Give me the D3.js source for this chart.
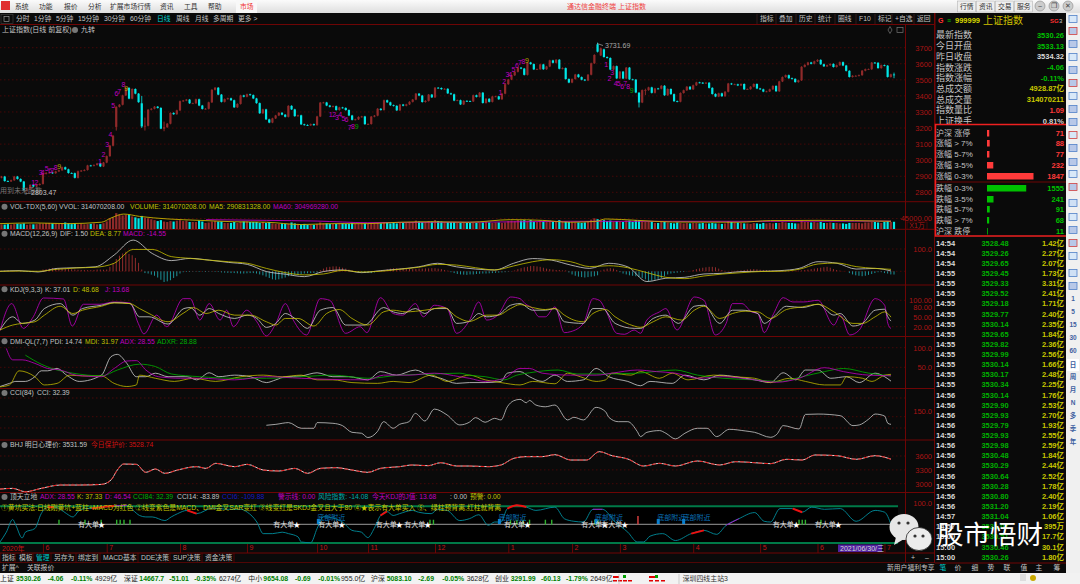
<!DOCTYPE html>
<html><head><meta charset="utf-8">
<script src="https://cdn.jsdelivr.net/npm/d3@7/dist/d3.min.js"></script>
<style>html,body{margin:0;padding:0;background:#0a0a0a;overflow:hidden}svg{display:block}text{font-family:"Liberation Sans","Noto Sans CJK SC",sans-serif}</style>
</head><body><svg id="c" width="1080" height="584"></svg>
<script>
// ---------- candle data (May 2020 .. Jul 2021) ----------
const closes=[2898,2870,2868,2875,2898,2883,2867,2813,2818,2846,2836,2846,2852,
2915,2921,2923,2919,2930,2937,2956,2943,2920,2919,2890,2931,2935,2939,2967,2965,2970,2979,2961,2985,
3025,3090,3152,3332,3345,3403,3450,3383,3443,3414,3361,3210,3214,3314,3320,3333,3325,3196,3205,3227,3294,3286,3310,
3367,3371,3377,3354,3354,3379,3340,3319,3320,3360,3438,3451,3408,3363,3380,3385,3373,3329,3350,3403,3395,
3410,3405,3384,3355,3292,3316,3254,3234,3260,3278,3295,3283,3270,3338,3316,3274,3279,3223,3219,3217,3224,3218,
3272,3358,3359,3340,3332,3336,3312,3328,3325,3312,3278,3251,3254,3269,3272,3224,
3225,3271,3277,3320,3312,3373,3360,3342,3338,3310,3346,3339,3347,3363,3377,3414,3402,3362,3369,3408,3391,
3451,3449,3442,3444,3416,3410,3371,3373,3347,3369,3367,3366,3404,3394,3420,3356,3382,3363,3396,3397,3379,3414,3473,
3502,3528,3550,3576,3570,3531,3608,3598,3565,3566,3596,3566,3583,3621,3606,3625,3569,3573,3505,3483,
3505,3533,3517,3501,3496,3532,3603,3655,3675,3696,3642,3636,3564,3585,3509,
3551,3508,3576,3503,3501,3421,3359,3436,3436,3453,3419,3446,3445,3463,3404,3443,3411,3367,3364,3418,3435,3457,3441,
3466,3484,3482,3479,3482,3450,3412,3396,3416,3398,3426,3477,3472,3472,3465,3474,3441,3442,3457,3474,3446,
3441,3427,3428,3441,3462,3429,3490,3517,3529,3510,3506,3486,3497,3581,3593,3608,3600,3615,
3624,3597,3584,3591,3599,3580,3591,3610,3589,3556,3518,3525,3525,3529,3557,3566,3566,3607,3606,3573,3591,
3588,3518,3534,3530.26];
const openGaps=[[0,2891],[36,3207],[44,3354],[50,3325],[187,3721],[188,3652],[189,3690],[280,3533.13]];
const wickExtremes=[[8,2830,2803.47],[36,3335,3184],[44,3400,3200],[45,3265,3184],[50,3330,3193],[51,3240,3180],[187,3731.69,3670],[200,3420,3328],[202,3445,3405],[280,3545,3510]];
const volume=[20,19,21,19,21,23,21,24,18,20,20,21,24,
23,25,26,24,24,22,25,28,24,21,24,20,23,20,21,22,24,20,21,25,
33,45,50,68,62,58,60,62,54,50,46,56,48,46,42,38,34,38,32,30,34,32,36,
38,34,36,30,30,30,36,32,26,28,32,34,32,32,26,26,26,30,26,30,32,
32,30,30,30,26,30,26,30,24,22,22,24,22,22,28,24,22,20,22,18,18,18,
22,28,24,24,22,22,22,24,24,22,22,26,22,22,24,24,
24,24,24,26,24,30,28,24,26,24,26,26,26,28,30,36,32,30,30,34,32,
38,34,32,30,30,30,30,26,26,26,26,26,26,26,26,28,30,28,26,28,28,26,28,
34,36,34,38,36,38,34,38,32,30,36,34,30,36,32,34,38,30,32,30,
28,28,28,26,28,32,40,46,42,38,38,34,36,30,34,
32,30,36,36,30,38,36,32,30,30,32,26,26,30,30,28,26,24,28,26,24,26,24,
26,26,24,26,24,24,26,24,24,22,24,34,30,28,28,26,24,24,22,26,24,
22,26,24,26,24,26,26,30,28,26,26,24,24,36,30,30,28,30,
28,30,26,26,28,26,26,24,24,22,26,26,26,26,24,28,28,30,30,28,26,
30,34,30,31];
const macdHist=[2,3,3,2,1,0,-1,-2,-3,-4,-3,-2,0,
8,10,12,14,14,13,12,11,10,9,8,7,6,6,5,5,6,8,8,7,
8,20,35,55,70,80,88,78,72,60,38,8,-8,-10,-15,-20,-28,-38,-48,-45,-40,-30,-22,
-10,-4,-3,-3,-2,-2,-3,-2,-3,-2,-2,-3,-3,-5,-6,-7,-8,-8,-9,-10,-10,-9,-8,-8,-10,
-14,-18,-24,-30,-36,-38,-36,-32,-28,-22,-18,-15,-14,-12,-10,-9,-8,-8,-6,
5,12,18,20,22,22,20,16,12,8,4,-3,-4,-5,-6,-7,-8,-5,-2,
3,6,9,12,14,14,13,12,12,11,10,11,12,12,13,13,14,14,12,10,6,3,
-4,-8,-12,-14,-15,-16,-14,-14,-12,-11,-10,-10,-9,-8,-7,-6,-5,-4,-2,-1,
4,10,14,18,20,24,24,22,20,16,12,10,8,6,6,4,4,
-5,-14,-20,-24,-26,-28,-26,-24,-22,-18,3,8,12,14,12,6,
-4,-10,-14,-18,-20,-22,-26,-30,-36,-44,-42,-38,-34,-30,-22,-14,-10,-8,-6,-4,-3,-1,2,
6,10,13,16,18,20,20,18,12,6,2,1,2,2,3,4,6,8,9,10,9,7,6,5,4,3,2,1,1,1,1,2,2,3,4,
6,8,10,12,14,16,18,20,16,10,6,3,1,0,-8,-14,-18,-20,-22,-20,-16,-12,-8,-4,-4,-8,-10,-14,-14.55];

// ---------- indicator lines: [reading index, value] ----------
const ma5Line=[[0,23],[11,26],[21,23],[32,29],[35,47],[39,64],[44,54],[53,43],[63,37],[74,31],[84,29],[95,19],[105,23],[116,23],[126,29],[137,31],[147,29],[148,29],[161,40],[171,37],[180,29],[188,33],[191,43],[201,37],[212,30],[233,29],[243,36],[258,37],[281,33]];
const ma60Line=[[65,40],[84,37],[100,34],[116,27],[137,29],[148,29],[180,33],[212,33],[243,33],[281,34]];
const dif=[[0,0],[6,3],[12,-3],[18,13],[24,16],[30,20],[36,73],[42,140],[48,80],[54,48],[60,58],[66,50],[72,40],[78,31],[84,-1],[90,-13],[96,-24],[102,-1],[108,6],[114,-6],[120,3],[126,10],[132,20],[138,36],[144,20],[150,10],[156,6],[162,36],[168,57],[174,50],[180,28],[186,13],[192,36],[198,20],[204,-46],[210,-31],[216,-27],[222,-12],[228,-9],[234,-1],[240,0],[246,3],[252,13],[258,43],[264,36],[270,10],[276,13],[281,1.5]];
const dea=[[0,0],[6,1],[12,0],[18,9],[24,15],[30,18],[36,36],[42,98],[48,98],[54,66],[60,58],[66,50],[72,43],[78,36],[84,13],[90,-6],[96,-16],[102,-12],[108,4],[114,-3],[120,0],[126,9],[132,18],[138,31],[144,28],[150,16],[156,6],[162,24],[168,43],[174,52],[180,43],[186,21],[192,25],[198,16],[204,-6],[210,-27],[216,-33],[222,-21],[228,-12],[234,-6],[240,-1],[246,0],[252,9],[258,33],[264,37],[270,21],[276,13],[281,8.77]];
const kdjK=[[0,10],[4,50],[7,30],[11,40],[14,75],[19,90],[23,55],[26,75],[32,85],[36,93],[41,90],[44,50],[47,50],[53,28],[58,75],[60,78],[63,55],[66,75],[69,60],[74,45],[78,55],[81,45],[84,18],[87,30],[90,60],[93,45],[97,15],[101,70],[105,78],[109,25],[115,25],[121,78],[124,65],[127,60],[131,75],[134,60],[137,75],[141,75],[144,30],[148,36],[151,60],[153.5,50],[157,55],[161,85],[164,90],[168,70],[172,70],[175,75],[178,35],[184,30],[187,75],[190,75],[194,30],[200,15],[202,15],[206,45],[210,55],[214,30],[219,82],[222,85],[227,30],[231,70],[234,70],[239,60],[241,30],[244,50],[248,82],[253,78],[258,88],[263,55],[265,60],[269,22],[272,30],[276,70],[279,73],[280,50],[281,37]];
const kdjD=[[0,10],[4,25],[7,30],[11,35],[14,55],[19,82],[23,60],[26,70],[32,82],[36,92],[41,90],[44,75],[47,60],[53,35],[58,62],[61,78],[65,60],[69,70],[74,55],[79,55],[84,35],[87,25],[90,45],[94,45],[99,22],[103,60],[107,72],[111,45],[116,25],[121,65],[124,70],[128,65],[134,70],[140,78],[144,50],[148,36],[153.5,55],[157,55],[161,75],[164,87],[168,78],[172,72],[175,75],[178,55],[181,40],[184,35],[187,60],[191,72],[194,50],[200,22],[202,18],[206,35],[210,50],[215,40],[219,70],[222,82],[227,45],[231,60],[235,67],[239,65],[243,45],[248,72],[253,80],[258,88],[263,65],[269,30],[272,30],[276,50],[279,65],[281,49]];
const kdjJ=[[0,8],[3.7,90],[7.4,15],[10.5,50],[13.7,107],[20,104],[22.8,22],[26.3,88],[31.5,88],[36,95],[41,92],[43.6,30],[45.4,-2],[49.4,55],[52.6,20],[57.8,105],[60,105],[63,40],[66,90],[69.4,40],[71.5,70],[73.6,20],[77.8,70],[81,35],[84,-8],[87,30],[90,90],[92.5,40],[96.7,-5],[101,105],[104,100],[109,0],[113.6,20],[115.7,2],[120,108],[124,60],[127,55],[131,90],[133.5,50],[137,85],[141,75],[144,0],[148,38],[151,95],[153.5,40],[157,55],[161,110],[164,105],[165.6,90],[168,75],[170,50],[172,50],[175,80],[178,2],[180,5],[184,30],[187,105],[189,100],[191,70],[194.5,0],[197,-3],[200,10],[202,0],[204,40],[208,65],[210,75],[213.5,10],[219,110],[222,100],[225.6,-5],[229,30],[231,90],[234,90],[237,65],[239,60],[241,2],[244,60],[247,108],[250,95],[253.5,95],[258,100],[263,25],[265,55],[268,-5],[271,10],[276,105],[279,85],[280,30],[281,14]];
const pdi=[[0,1],[3,9],[5,14],[8,14],[11,26],[13,41],[15,41],[18,47],[21,30],[25,14],[32,30],[35,77],[37,83],[40,60],[43,26],[46,26],[49,35],[53,26],[59,26],[62,18],[66,36],[69,26],[74,30],[79,26],[84,11],[87,18],[90,26],[95,28],[100,36],[105,26],[110,26],[116,18],[120,39],[125,30],[131,43],[135,30],[139,22],[144,9],[148,11],[153,11],[158,14],[160,35],[164,39],[167,26],[171,14],[175,30],[179,14],[184,18],[188,47],[192,26],[198,14],[202,3],[205,14],[212,9],[216,30],[222,18],[227,30],[232,26],[238,18],[243,11],[247,36],[251,18],[254,43],[258,43],[262,22],[267,26],[271,11],[276,35],[279,26],[281,14.7]];
const mdi=[[0,0],[3,5],[6,41],[11,26],[14,5],[18,9],[22,30],[26,28],[32,28],[36,9],[40,1],[43,5],[44,30],[49,22],[55,14],[61,22],[68,14],[76,26],[83,30],[89,26],[95,30],[100,18],[105,18],[111,11],[119,9],[124,14],[129,11],[136,30],[141,14],[148,30],[153,18],[158,11],[164,5],[168,14],[175,8],[179,35],[183,26],[188,14],[191,18],[193,35],[199,30],[202,39],[208,22],[212,35],[217,18],[225,30],[231,26],[238,22],[243,11],[249,22],[254,14],[260,5],[265,5],[267,26],[272,22],[275,14],[278,26],[279,30],[281,32]];
const adx=[[2,98],[4,69],[7,69],[11,60],[15,47],[19,43],[24,30],[32,26],[36,47],[40,66],[43,67],[46,43],[50,26],[57,22],[63,22],[74,18],[84,26],[95,22],[105,19],[116,18],[121,30],[129,30],[137,35],[145,26],[148,22],[153,14],[159,22],[164,47],[167,47],[171,35],[180,30],[188,30],[193,35],[201,43],[207,39],[213,35],[220,22],[228,26],[238,18],[245,12],[252,22],[260,49],[266,39],[274,30],[281,28.5]];
const adxr=[[8,81],[13,58],[18,43],[23,35],[32,28],[37,43],[44,58],[49,52],[54,33],[63,26],[74,22],[84,22],[95,26],[105,30],[116,22],[126,30],[137,33],[145,35],[148,30],[153,26],[159,18],[163,30],[167,36],[176,43],[182,33],[190,33],[201,35],[213,43],[220,30],[228,22],[238,18],[246,14],[253,26],[260,39],[266,47],[274,35],[281,28]];
const cci=[[84,24],[87,32],[91,47],[95,-2],[99,-2],[100,47],[105,41],[108,21],[111,-37],[114,-45],[116,-82],[119,-31],[121,55],[124,-2],[126,32],[129,55],[131,127],[134,61],[137,164],[141,113],[145,27],[148,50],[150,90],[153,50],[156,84],[158,70],[160,184],[162,236],[164,248],[166,219],[167,239],[169,199],[172,184],[175,199],[179,70],[181,93],[184,70],[188,179],[191,141],[192,93],[195,55],[198,55],[201,-31],[202,-74],[204,-37],[208,-22],[210,-45],[213,-94],[216,-45],[220,-2],[223,-2],[226,-74],[230,-11],[235,-25],[238,-37],[243,-80],[245,-54],[247,21],[252,-8],[254,118],[258,121],[265,107],[269,21],[271,27],[274,78],[276,121],[279,104],[280,41],[281,32]];
const bhj=[[0,2884],[4,2899],[8,2826],[13,2899],[19,2971],[25,2971],[32,2985],[35,3079],[37,3296],[39,3426],[43,3419],[46,3246],[49,3318],[52,3224],[56,3296],[62,3369],[65,3332],[68,3441],[74,3369],[78,3419],[83,3296],[88,3275],[93,3332],[97,3224],[101,3332],[106,3347],[111,3296],[116,3246],[120,3332],[126,3369],[130,3405],[135,3390],[139,3455],[144,3383],[148,3383],[154,3369],[158,3405],[162,3549],[166,3586],[171,3586],[175,3629],[180,3513],[185,3513],[189,3694],[193,3607],[198,3535],[203,3383],[208,3441],[213,3383],[220,3492],[227,3405],[232,3477],[238,3455],[243,3434],[248,3528],[253,3513],[257,3622],[264,3607],[270,3528],[276,3607],[281,3531]];
const dtld=[[0,2],[2,29],[4,64],[5,48],[7,13],[8,29],[11,39],[13,80],[15,98],[17,98],[19,92],[21,80],[23,71],[25,89],[27,94],[29,94],[32,98],[36,101],[40,103],[42,89],[44,75],[46,71],[48,71],[52,61],[54,71],[56,80],[59,89],[62,80],[67,95],[72,92],[76,92],[78,84],[81,57],[83,25],[86,25],[89,29],[91,25],[94,16],[95,2],[98,0],[100,39],[102,72],[105,68],[108,57],[111,34],[114,29],[116,14],[118,39],[120,75],[122,86],[124,75],[126,80],[130,89],[132,84],[136,80],[138,92],[141,89],[145,61],[148,66],[151,77],[154,48],[156,57],[158,57],[160,94],[163,103],[166,98],[169,89],[175,98],[178,66],[181,59],[184,57],[187,92],[190,92],[194,57],[198,29],[201,2],[203,2],[205,18],[209,25],[213,6],[218,25],[222,34],[226,23],[229,48],[233,66],[238,83],[241,59],[243,57],[246,94],[250,94],[253,84],[256,98],[260,92],[265,94],[270,59],[276,89],[279,84],[281,50]];
const dtldRed=[[15,18],[29,36],[58,62],[120,122],[160,168],[218,222],[250,254],[261,267]];
const dtldPurple=[[36,41],[119,120],[187,192],[229,233]];
const dtldYellow=[[96,98]];
const starIdx=[32,93.6,107.8,125.9,134.9,166.4,190.7,197,251.1,264.4];
const bottomNearIdx=[100.4,157.5,188,207.6,215.6];
const greenBarIdx=[18.6,26.8,31.9,36.8,37.9,39.1,41,135.6,136.7,161,163,165,167,172,174,187.6,188.6,252,253,254,258.9];
const redBarIdx=[201.2];

// TD nine-turn counts: [digit, reading index, price]
const nineMarks=[[1,10.5,2860],[2,11.5,2860],[3,12.8,2924],[4,13.5,2924],[5,14.7,2949],[6,15.8,2938],[7,16.6,2938],[8,17.6,2953],[9,18.7,2959],
[1,31.5,2994],[2,32.6,3032],[3,33.8,3098],[4,34.8,3160],[5,35.7,3343],[6,36.7,3416],[7,37.6,3426],[8,38.9,3468],[9,39.8,3443],
[1,104.3,3287],[2,105.4,3287],[3,106.3,3266],[4,107.3,3281],[5,108.3,3256],[6,109.3,3250],[7,110.3,3204],[8,111.3,3208],[9,112.5,3208],
[1,157.8,3422],[2,159,3488],[3,160,3530],[4,160.9,3530],[5,161.9,3565],[6,163,3592],[7,164,3607],[8,165.1,3613],[9,166.2,3623],
[1,191.2,3598],[2,192.2,3505],[3,193.1,3544],[4,194.2,3478],[5,195.1,3478],[6,196.2,3457],[7,197.2,3478],[8,198.1,3461],[9,199.2,3432]];

const priceTicks=[2800,2900,3000,3100,3200,3300,3400,3500,3600,3700];
const monthTickIdx=[13,33,56,77,99,115,136,159,179,194,217,238,256,277];
const monthTickLabels=["6","7","8","9","10","11","12","1","2","3","4","5","6","7"];
const volTicks=[45];const macdTicks=[100];const kdjTicks=[100,80,50,20];const dmiTicks=[100,50];const cciTicks=[150];const bhjTicks=[3600,3300,3000];const dtTicks=[100];

// right side panels
const quoteLabels=["最新指数","今日开盘","昨日收盘","指数涨跌","指数涨幅","总成交额","总成交量","指数量比","上证换手"];
const quoteValues=["3530.26","3533.13","3534.32","-4.06","-0.11%","4928.87亿","314070211","1.09","0.81%"];
const quoteColors=["#00c000","#00c000","#d8d8d8","#00c000","#00c000","#c8c800","#c8c800","#ff3a3a","#d8d8d8"];
const breadthLabels=["沪深 涨停","涨幅 > 7%","涨幅 5-7%","涨幅 3-5%","涨幅 0-3%","跌幅 0-3%","跌幅 3-5%","跌幅 5-7%","跌幅 > 7%","沪深 跌停"];
const breadthValues=[71,88,77,232,1847,1555,241,91,68,11];
const tickTimes=["14:54","14:54","14:54","14:55","14:55","14:55","14:55","14:55","14:55","14:55","14:55","14:55","14:55","14:55","14:55","14:56","14:56","14:56","14:56","14:56","14:56","14:56","14:56","14:56","14:56","14:56","14:56","14:57","14:57","15:00","15:00","15:00"];
const tickPrices=["3528.48","3529.26","3529.65","3529.45","3529.33","3529.52","3529.18","3529.77","3530.14","3529.65","3529.82","3529.99","3530.14","3530.17","3530.34","3530.14","3529.90","3529.93","3529.79","3529.93","3529.98","3530.48","3530.29","3530.64","3530.28","3530.80","3531.20","3531.04","3531.07","3530.51","3530.46","3530.26"];
const tickVols=["1.42亿","2.27亿","2.07亿","1.73亿","3.31亿","2.41亿","1.71亿","2.40亿","2.35亿","1.84亿","2.36亿","2.56亿","1.66亿","2.48亿","2.25亿","1.76亿","2.53亿","2.70亿","1.93亿","2.55亿","2.59亿","1.84亿","2.44亿","2.52亿","1.78亿","2.40亿","2.19亿","1.06亿","395万","17.7亿","30.1亿","1.80亿"];

// ---------- drawing ----------
const svg=d3.select("#c");
const RED="#a81414",GRID="#560808",LINE="#6e0505",CY="#00e8e8",CR="#8f2a2a",WH="#d0d0d0",YE="#c0c000",PU="#c000c0",GN="#00b000",DIM="#c4c4c4";
function T(p,x,y,s,c,fs,anchor,w){return p.append("text").attr("x",x).attr("y",y).attr("dy","0.35em").attr("fill",c||WH).attr("font-size",fs||7).attr("text-anchor",anchor||"start").attr("font-weight",w||"normal").text(s);}
function R(p,x,y,w,h,c){return p.append("rect").attr("x",x).attr("y",y).attr("width",w).attr("height",h).attr("fill",c);}
function L(p,x1,y1,x2,y2,c,sw,dash){const l=p.append("line").attr("x1",x1).attr("y1",y1).attr("x2",x2).attr("y2",y2).attr("stroke",c).attr("stroke-width",sw||1);if(dash)l.attr("stroke-dasharray",dash);return l;}

R(svg,0,0,1080,584,"#0a0a0a");
// scales
const X=d3.scaleLinear().domain([0,closes.length-1]).range([1.5,894]);
const RX=d3.scaleLinear().domain([0,281]).range([0,891]);
const yP=d3.scaleLinear().domain([2800,3700]).range([192.3,47.7]);
const yV=d3.scaleLinear().domain([0,45]).range([229,218.5]);
const yM=d3.scaleLinear().domain([0,100]).range([271.3,249]);
const yK=d3.scaleLinear().domain([0,100]).range([333.3,300.3]);
const yD=d3.scaleLinear().domain([0,100]).range([386.9,347.7]);
const yC=d3.scaleLinear().domain([150,32.39]).range([410.7,424.3]);
const yB=d3.scaleLinear().domain([3000,3600]).range([483.7,456]);
const yT=d3.scaleLinear().domain([0,100]).range([542.7,506.4]);

// grids
function grid(scale,vals){vals.forEach(v=>L(svg,0,scale(v),905,scale(v),GRID,0.8,"1.5,2.5"));}
grid(yP,priceTicks);grid(yV,volTicks);grid(yM,[100]);grid(yK,[100,20]);grid(yD,dmiTicks);grid(yB,bhjTicks);
[398,416.7,428].forEach(y=>L(svg,0,y,905,y,GRID,0.8,"1.5,2.5"));
[271.3].forEach(y=>L(svg,0,y,905,y,GRID,0.8,"1.5,2.5"));

// bottom panel bg
R(svg,0,506,898,37,"#000");

// panel separators
[24.5,201.7,229.3,285,336.5,388.5,440,492.5,553,562.8].forEach(y=>L(svg,0,y,935,y,LINE,1));
L(svg,905.5,24,905.5,563,LINE,1);
L(svg,934.5,13,934.5,573,LINE,1);
R(svg,0,563,935,10,"#0a0a0a");

// axes
function axis(scale,vals,fmt){const g=svg.append("g").attr("transform","translate(905,0)").call(d3.axisRight(scale).tickValues(vals).tickSize(0).tickPadding(27).tickFormat(fmt));g.select(".domain").remove();g.selectAll("text").attr("text-anchor","end").attr("fill",RED).attr("font-size",7.5).attr("font-family",'"Liberation Sans"');return g;}
axis(yP,priceTicks,d3.format("d"));
axis(yV,volTicks,d=>d3.format(".2f")(d*1000));
axis(yM,macdTicks,d3.format(".1f"));
axis(yK,kdjTicks,d3.format(".2f"));
axis(yD,dmiTicks,d3.format(".1f"));
axis(yC,cciTicks,d3.format(".1f"));
axis(yB,bhjTicks,d3.format("d"));
axis(yT.copy().range([539.2,502.9]),dtTicks,d3.format(".1f"));
R(svg,907,222,20,7,"#0a0a0a").attr("stroke",LINE).attr("stroke-width",.6);
T(svg,917,225.5,"X1万",RED,7,"middle");

// candles
const opens=closes.map((c,i)=>{const o=openGaps.find(g=>g[0]===i);return o?o[1]:(i?closes[i-1]:c);});
const up=closes.map((c,i)=>c>=opens[i]);
const cG=svg.append("g");
cG.selectAll("line").data(closes).join("line")
 .attr("x1",(d,i)=>X(i)).attr("x2",(d,i)=>X(i))
 .attr("y1",(d,i)=>{const w=wickExtremes.find(e=>e[0]===i);return yP(w?w[1]:Math.max(d,opens[i])+4);})
 .attr("y2",(d,i)=>{const w=wickExtremes.find(e=>e[0]===i);return yP(w?w[2]:Math.min(d,opens[i])-4);})
 .attr("stroke",(d,i)=>up[i]?"#b03030":CY).attr("stroke-width",.8);
cG.selectAll("rect").data(closes).join("rect")
 .attr("x",(d,i)=>X(i)-1.1).attr("width",2.2)
 .attr("y",(d,i)=>yP(Math.max(d,opens[i])))
 .attr("height",(d,i)=>Math.max(0.8,Math.abs(yP(d)-yP(opens[i]))))
 .attr("fill",(d,i)=>up[i]?CR:CY);

// nine-turn digits
svg.append("g").selectAll("text").data(nineMarks).join("text")
 .attr("x",d=>RX(d[1])).attr("y",d=>yP(d[2])).attr("dy","0.35em").attr("text-anchor","middle").attr("font-size",7)
 .attr("fill",d=>d[0]===9?(d[1]>100&&d[1]<120||d[1]>195?"#00a000":"#b8a800"):PU).text(d=>d[0]);

// volume
svg.append("g").selectAll("rect").data(volume).join("rect")
 .attr("x",(d,i)=>X(i)-1.1).attr("width",2.2).attr("y",d=>yV(d)).attr("height",d=>229-yV(d))
 .attr("fill",(d,i)=>up[i]?CR:CY);
function line(data,y,color,sw,dash){const l=d3.line().curve(d3.curveMonotoneX).x(d=>RX(d[0])).y(d=>y(d[1]));const p=svg.append("path").attr("d",l(data)).attr("fill","none").attr("stroke",color).attr("stroke-width",sw||.8).attr("stroke-linejoin","round");if(dash)p.attr("stroke-dasharray",dash);return p;}
line(ma60Line,yV,PU,.9);line(ma5Line,yV,"#c8b000",.9);

// macd
svg.append("g").selectAll("line").data(macdHist).join("line")
 .attr("x1",(d,i)=>X(i)).attr("x2",(d,i)=>X(i)).attr("y1",yM(0)).attr("y2",d=>yM(d))
 .attr("stroke",d=>d>=0?"#a03030":"#20a0a8").attr("stroke-width",.9);
line(dif,yM,WH);line(dea,yM,"#c8c000");
// kdj
line(kdjJ,yK,PU);line(kdjK,yK,WH);line(kdjD,yK,"#c8c000");
// dmi
line(pdi,yD,WH);line(mdi,yD,"#c0b800");line(adxr,yD,"#00b000");line(adx,yD,PU);
// cci
line(cci,yC,"#c8c8c8");
// bhj
line(bhj,yB,"#d8d8d8",1);line(bhj,yB,"#e01818",1,"4,2");

// bottom panel
L(svg,0,524.3,898,524.3,"#c0c0c0",.8);
L(svg,0,506.3,898,506.3,"#007a48",2);L(svg,0,542.9,898,542.9,"#007a48",2);
svg.append("g").selectAll("rect").data(greenBarIdx).join("rect")
 .attr("x",d=>RX(d)-.7).attr("width",1.4).attr("y",yT(50)+0.2-5).attr("height",5).attr("fill","#30b030");
svg.append("g").selectAll("rect").data(redBarIdx).join("rect")
 .attr("x",d=>RX(d)-.7).attr("width",1.4).attr("y",516).attr("height",8.5).attr("fill","#e04040");
line(dtld,yT,"#008c9c",.9);
function seg(ranges,color,sw){ranges.forEach(r=>{line(dtld.filter(d=>d[0]>=r[0]&&d[0]<=r[1]),yT,color,sw);});}
seg(dtldPurple,"#a020c0",1);seg(dtldRed,"#f01010",2);seg(dtldYellow,"#d8d800",1.6);
bottomNearIdx.forEach(i=>{R(svg,RX(i)-1.5,519,3,5,"#0a80d0");T(svg,RX(i)-1,518,"底部附近","#0a70b8",7);});
starIdx.forEach(i=>{T(svg,RX(i)-2.5,524.3,"有大单","#e0e0e0",7,"end");T(svg,RX(i),524.3,"★","#fff",7,"middle");});

// month axis
const mG=svg.append("g").attr("transform","translate(0,544)").call(d3.axisBottom(X).tickValues(monthTickIdx).tickSize(9).tickPadding(-5).tickFormat((d,i)=>monthTickLabels[i]));
mG.select(".domain").remove();mG.selectAll("line").attr("stroke",LINE);
mG.selectAll("text").attr("text-anchor","start").attr("x",2).attr("y",1).attr("dy","0.75em").attr("fill","#c01818").attr("font-size",7);
T(svg,2,548.5,"2020年","#c01818",7);
R(svg,838,544.5,44,7.5,"#5022a0");T(svg,840,548.5,"2021/06/30/三","#d8d8d8",7);

// panel headers
function dot(y){svg.append("circle").attr("cx",4.5).attr("cy",y).attr("r",3).attr("fill","#777");}
function hdr(y,items){dot(y);items.forEach(a=>T(svg,a[0],y,a[1],a[2],a[3]||6.8));}
T(svg,2,30,"上证指数(日线 前复权)",DIM,7);svg.append("circle").attr("cx",75).attr("cy",30).attr("r",3).attr("fill","#777");T(svg,81,30,"九转",DIM,7);
hdr(206.7,[[10,"VOL-TDX(5,60)",DIM],[59,"VVOL: 314070208.00",DIM],[130,"VOLUME: 314070208.00",YE],[209,"MA5: 290831328.00",YE],[273,"MA60: 304969280.00",PU]]);
hdr(233.7,[[10,"MACD(12,26,9)",DIM],[60,"DIF: 1.50",DIM],[90,"DEA: 8.77",YE],[123,"MACD: -14.55",PU]]);
hdr(289.3,[[10,"KDJ(9,3,3)",DIM],[45,"K: 37.01",DIM],[73,"D: 48.68",YE],[105,"J: 13.68",PU]]);
hdr(341.3,[[10,"DMI-QL(7,7)",DIM],[50,"PDI: 14.74",DIM],[85,"MDI: 31.97",YE],[120,"ADX: 28.55",PU],[157,"ADXR: 28.88",GN]]);
hdr(393,[[10,"CCI(84)",DIM],[37,"CCI: 32.39",DIM]]);
hdr(445,[[10,"BHJ 明日心理价: 3531.59",DIM],[91,"今日保护价: 3528.74","#d01010"]]);
hdr(497,[[10,"顶天立地",DIM],[40,"ADX: 28.55",PU],[77,"K: 37.33",YE],[105,"D: 46.54",PU],[133,"CCI84: 32.39",GN],[177,"CCI14: -83.89",DIM],[222,"CCI6: -109.88","#1818c0"],[278,"警示线: 0.00",PU],[318,"风险指数: -14.08","#00a8a8"],[372,"今天KDJ的J值: 13.68",PU],[450,": 0.00",DIM],[470,"预警: 0.00",YE]]);
T(svg,1,507.5,"①黄坑买法:日线刚黄坑+蓝柱+MACD为红色 ②线变紫色是MACD、DMI金叉SAR变红 ③线变红是SKDJ金叉且大于80 ④★表示有大单买入 ⑤、绿柱预背离,红柱就背离","#c8c800",7).attr("textLength",500).attr("lengthAdjust","spacingAndGlyphs");

// price annotations
T(svg,0,191,"用到未来函数","#777",7);
T(svg,24,192.5,"←2803.47",DIM,7);
T(svg,605,46,"3731.69","#a8a8a8",7);
L(svg,597,43.5,603,45.5,"#aaa",.7);
svg.append("path").attr("d",d3.symbol().type(d3.symbolDiamond).size(14)()).attr("transform","translate(890,30)").attr("fill","none").attr("stroke","#777").attr("stroke-width",.7);
R(svg,897,27.5,6,5,"none").attr("stroke","#777").attr("stroke-width",.7);

// top menu
const menuBar=svg.append("defs").append("linearGradient").attr("id","gb").attr("x1",0).attr("x2",0).attr("y1",0).attr("y2",1);
menuBar.append("stop").attr("offset",0).attr("stop-color","#fbfbfb");menuBar.append("stop").attr("offset",1).attr("stop-color","#dedede");
R(svg,0,0,1080,13,"url(#gb)");
R(svg,1,1,9,9,"#e03030");
[["系统",15],["功能",39],["报价",64],["分析",88],["扩展市场行情",110],["资讯",160],["工具",184],["帮助",208]].forEach(a=>T(svg,a[1],6.5,a[0],"#303030",6.8));
R(svg,236,0,21,13,"#f8f8f8");T(svg,240,6.5,"市场","#f03030",6.8);
T(svg,567,6.5,"通达信金融终端  上证指数","#f04040",7);
[["行情",960],["资讯",979],["交易",998],["服务",1017]].forEach(a=>{svg.append("rect").attr("x",a[1]-2.5).attr("y",1).attr("width",18).attr("height",11).attr("fill","#eee").attr("stroke","#aaa").attr("stroke-width",.5);T(svg,a[1],6.5,a[0],"#303030",6.8);});
[1044,1058,1072].forEach(x=>{svg.append("circle").attr("cx",x-4).attr("cy",6).attr("r",5).attr("fill","#ccc").attr("stroke","#888").attr("stroke-width",.6);});
["–","❐","✕"].forEach((s,i)=>T(svg,[1040,1054,1068][i],6,s,"#444",6.5,"middle"));
// tab row
R(svg,1,14.5,12,9,"none").attr("stroke","#444").attr("stroke-width",.6);
R(svg,4,16.5,5,5,"none").attr("stroke","#aaa").attr("stroke-width",.6);
[["分时",16],["1分钟",34],["5分钟",56],["15分钟",78],["30分钟",104],["60分钟",130],["日线",157,"#00d0d0"],["周线",176],["月线",195],["多周期",213],["更多 >",238]].forEach(a=>T(svg,a[1],19,a[0],a[2]||DIM,6.8));
[["指标",760],["叠加",779],["历史",799],["统计",818],["圈线",838],["F10",859],["标记",878],["+自选",895],["返回",917]].forEach(a=>{T(svg,a[1],19,a[0],DIM,6.8);L(svg,a[1]-3,14,a[1]-3,24,"#3a2020",.8);});

// right quote panel
R(svg,935,13,131,561,"#0a0a0a");
L(svg,935,13,935,124,LINE,1);
T(svg,938,20.5,"G","#ff3030",7,"start","bold");T(svg,947,20.5,"≡","#00c000",7);
T(svg,955,20.5,"999999","#d8d800",7.5,"start","bold");T(svg,983,20.5,"上证指数","#d0c000",10);
T(svg,1050,21,"SG","#ff3030",6,"start","bold");T(svg,1059,21,"3","#ccc",6);
quoteLabels.forEach((s,i)=>{const y=35.3+i*10.7;T(svg,936,y,s,DIM,9);T(svg,1064,y,quoteValues[i],quoteColors[i],7.5,"end","bold");});
// breadth
R(svg,935,124,133,112,"#0a0a0a");
const bw=d3.scaleLinear().domain([0,1847]).range([0.5,46.5]);
const byUp=[133,143,154,165,176],byDn=[188,199,209,220,231];
const by=byUp.concat(byDn);
breadthLabels.forEach((s,i)=>{const c=i<5?"#ff3a3a":"#00c000";T(svg,936,by[i],s,DIM,8);
 R(svg,987,by[i]-3,bw(breadthValues[i]),6.5,c);
 T(svg,1064,by[i],breadthValues[i],c,7.5,"end","bold");});
L(svg,936,182,1067,182,LINE,1);
svg.append("rect").attr("x",935.5).attr("y",124.5).attr("width",132.5).attr("height",111.5).attr("fill","none").attr("stroke","#ee2020").attr("stroke-width",1.5);
// ticks list
tickTimes.forEach((t,i)=>{const y=243+i*10.13;T(svg,936,y,t,"#d8d8d8",7.5,"start","bold");
 T(svg,990,y,tickPrices[i],"#00b000",7.5,"middle","bold").attr("x",995);
 T(svg,1064,y,tickVols[i],"#c8c800",7.5,"end","bold");});
L(svg,935,563,1066,563,LINE,1);
[["笔",943,"#00d0d0"],["价",958],["细",975],["势",991],["联",1007],["值",1024],["主",1039],["筹",1057]].forEach(a=>T(svg,a[1],568,a[0],a[2]||DIM,6.8,"middle"));
T(svg,887,568,"新用户福利专享",DIM,6.8);
T(svg,913,558,"+",DIM,7,"middle");T(svg,927,558,"–",DIM,7,"middle");
T(svg,2,568,"扩展^",DIM,6.8);T(svg,27,568,"关联报价",DIM,6.8);
[["指标",2],["模板",19],["管理",36,"#00c8c8"],["另存为",54],["绑定到",78],["MACD基本",103],["DDE决策",141],["SUP决策",173],["资金决策",205]].forEach(a=>T(svg,a[1],558,a[0],a[2]||DIM,6.8));
[0,15,33,51,76,100,138,170,202,234].forEach(x=>L(svg,x,553,x,563,LINE,.7));

// right icon strip
R(svg,1066,13,14,561,"#f0f0f0");
[19,31,44,57,70,83,96,109,122,135,148,162,174,187,203,217,230,243,256,273,286].forEach((y,i)=>{svg.append("rect").attr("x",1069).attr("y",y-3.5).attr("width",8).attr("height",7).attr("fill",i===14||i===19?"#cfe0f5":i%3===0?"#d8e8f8":"#b8c8e8").attr("stroke",i%4===1?"#d04040":"#5080c8").attr("stroke-width",.8);});
[["1",299],["5",312],["15",325],["30",338],["60",351],["日",365],["周",377],["月",390],["N",403],["多",416],["季",429],["年",442]].forEach(a=>{if(a[0]==="日")R(svg,1067,359,12,12,"#fff");T(svg,1073,a[1],a[0],"#4060a0",6.5,"middle","bold");});

// status bar
R(svg,0,573,1080,11,"#f2f2f2");
const st=[["上证",0,"#222"],["3530.26",16,"#008000"],["-4.06",47.7,"#008000"],["-0.11%",71,"#008000"],["4929亿",95,"#222"],["深证",124,"#222"],["14667.7",139.3,"#008000"],["-51.01",169.3,"#008000"],["-0.35%",194.3,"#008000"],["6274亿",219,"#222"],["中小",248.3,"#222"],["9654.08",263.3,"#008000"],["-0.69",295,"#008000"],["-0.01%",318.3,"#008000"],["955.0亿",341,"#222"],["沪深",371,"#222"],["5083.10",386.7,"#008000"],["-2.69",418.3,"#008000"],["-0.05%",442.3,"#008000"],["3628亿",466.7,"#222"],["创业",495,"#222"],["3291.99",510.7,"#008000"],["-60.13",541,"#008000"],["-1.79%",566,"#008000"],["2649亿",590.3,"#222"],["深圳四线主站3",682.7,"#333"]];
st.forEach(a=>T(svg,a[1],578.8,a[0],a[2],6.9,"start",a[2]==="#008000"?"bold":"normal"));
[[622,576,6,2,"#e00000"],[632,575,3,3,"#00a000"],[622,580,4,1.5,"#e00000"],[627,580,4,1.5,"#e00000"],[632,580,4,1.5,"#e00000"],[637,580,4,1.5,"#e00000"],[658,576,6,2,"#e00000"],[664,575,3,3,"#00a000"],[658,580,4,1.5,"#e00000"],[664,580,4,1.5,"#e00000"],[670,580,4,1.5,"#e00000"]].forEach(a=>R(svg,a[0]-9,a[1],a[2],a[3],a[4]));
L(svg,619,574,619,584,"#bbb",.7);L(svg,679,574,679,584,"#bbb",.7);
R(svg,1020,574,6,7,"#ddd");svg.append("circle").attr("cx",1033).attr("cy",578).attr("r",3).attr("fill","#c8a800");

// watermark
const wm=svg.append("g");
wm.append("ellipse").attr("cx",904).attr("cy",527).attr("rx",14.5).attr("ry",13).attr("fill","#e6e6e6");
wm.append("path").attr("d","M896 537 L894 545 L904 539Z").attr("fill","#e6e6e6");
wm.append("ellipse").attr("cx",919).attr("cy",539).attr("rx",13).attr("ry",11.5).attr("fill","#ececec").attr("stroke","#222").attr("stroke-width",.8);
[[899,523],[908,523],[915,536],[923,536]].forEach(p=>wm.append("circle").attr("cx",p[0]).attr("cy",p[1]).attr("r",1.6).attr("fill","#333"));
T(wm,937,535,"股市悟财","#fff",26.5).attr("style",'font-family:"Noto Sans CJK SC"');
</script></body></html>
